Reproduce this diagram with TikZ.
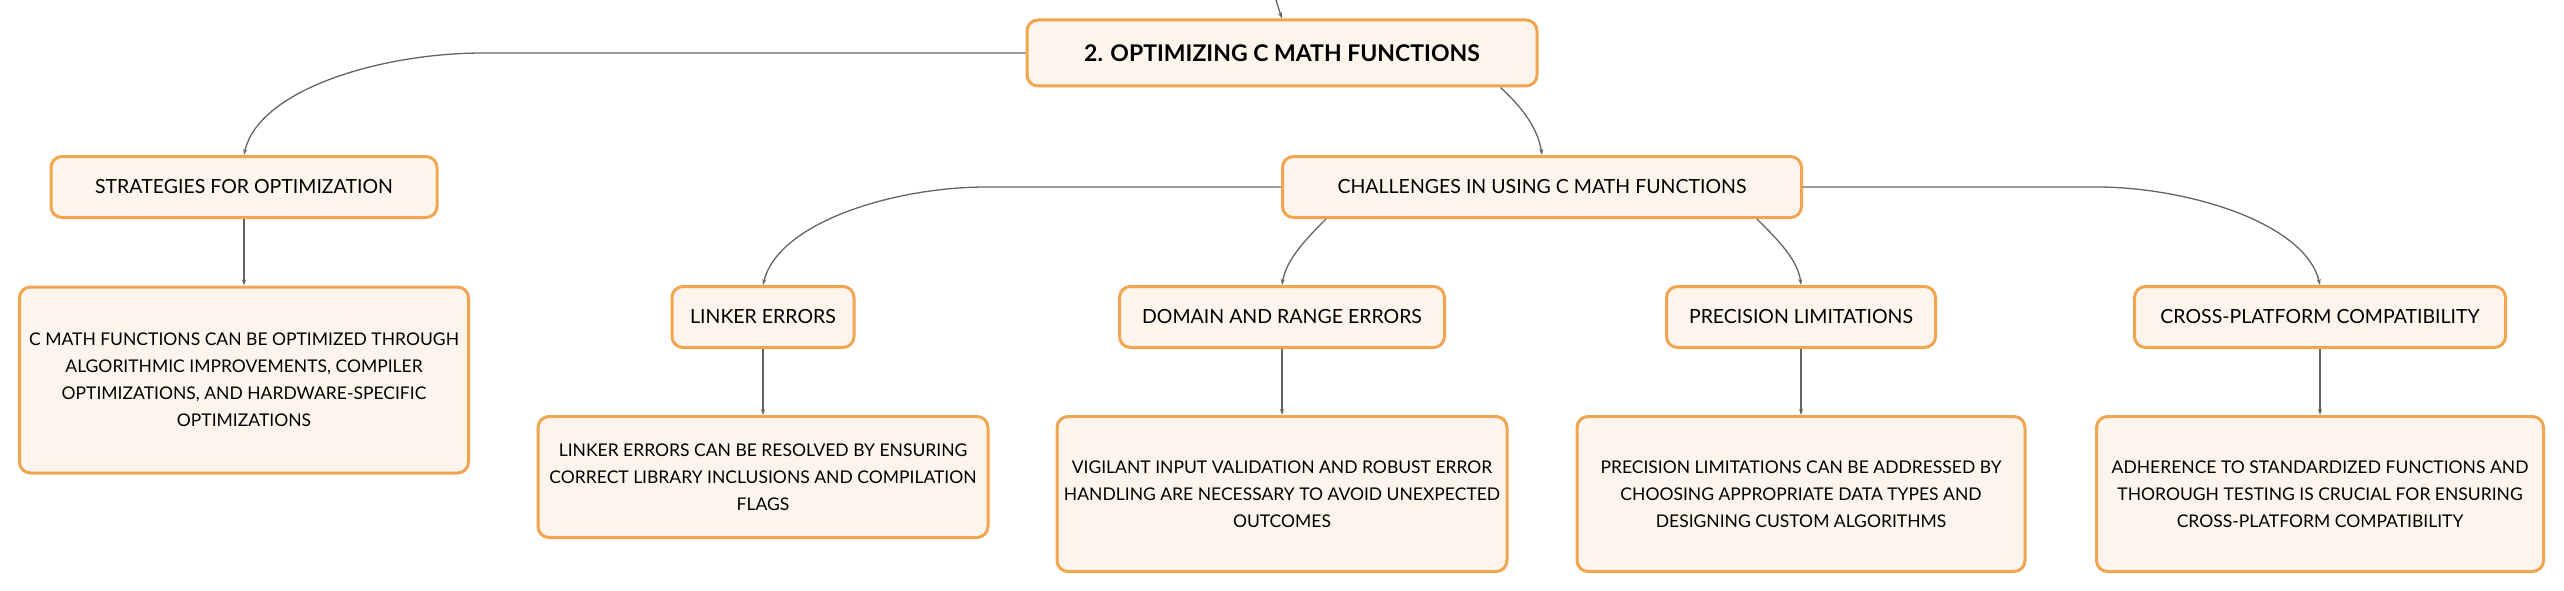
\documentclass[tikz,border=0pt]{standalone}
\usepackage{fontspec}
\setmainfont{Lato}
\usetikzlibrary{arrows.meta}
\definecolor{boxborder}{RGB}{241,165,80}
\definecolor{boxfill}{RGB}{253,244,236}
\definecolor{linkgray}{RGB}{100,100,100}
\tikzset{
  box/.style={draw=boxborder, fill=boxfill, line width=3pt, rounded corners=11pt,
    align=center, inner sep=0pt, font=\fontsize{17.5}{27}\selectfont},
  labelbox/.style={box, font=\fontsize{19.5}{27}\selectfont},
  rootbox/.style={box, font=\fontsize{23}{28}\selectfont\bfseries},
  conn/.style={draw=linkgray, line width=1.3pt, -{Stealth[length=6pt,width=4pt]}},
}
\begin{document}
\begin{tikzpicture}[x=1pt,y=-1pt]
\useasboundingbox (0,0) rectangle (2564,591);
% nodes
\node[rootbox, minimum width=510, minimum height=66] (root) at (1282,53) {2. OPTIMIZING C MATH FUNCTIONS};
\node[labelbox, minimum width=386, minimum height=61] (strat) at (244,187) {STRATEGIES FOR OPTIMIZATION};
\node[box, minimum width=449, minimum height=186] (stratd) at (244,380) {C MATH FUNCTIONS CAN BE OPTIMIZED THROUGH\\ALGORITHMIC IMPROVEMENTS, COMPILER\\OPTIMIZATIONS, AND HARDWARE-SPECIFIC\\OPTIMIZATIONS};
\node[labelbox, minimum width=519, minimum height=61] (chal) at (1542,187) {CHALLENGES IN USING C MATH FUNCTIONS};
\node[labelbox, minimum width=182, minimum height=61] (link) at (763,317) {LINKER ERRORS};
\node[box, minimum width=450, minimum height=121] (linkd) at (763,477) {LINKER ERRORS CAN BE RESOLVED BY ENSURING\\CORRECT LIBRARY INCLUSIONS AND COMPILATION\\FLAGS};
\node[labelbox, minimum width=325, minimum height=61] (dom) at (1282,317) {DOMAIN AND RANGE ERRORS};
\node[box, minimum width=450, minimum height=155] (domd) at (1282,494) {VIGILANT INPUT VALIDATION AND ROBUST ERROR\\HANDLING ARE NECESSARY TO AVOID UNEXPECTED\\OUTCOMES};
\node[labelbox, minimum width=269, minimum height=61] (prec) at (1801,317) {PRECISION LIMITATIONS};
\node[box, minimum width=448, minimum height=155] (precd) at (1801,494) {PRECISION LIMITATIONS CAN BE ADDRESSED BY\\CHOOSING APPROPRIATE DATA TYPES AND\\DESIGNING CUSTOM ALGORITHMS};
\node[labelbox, minimum width=371, minimum height=61] (cross) at (2320,317) {CROSS-PLATFORM COMPATIBILITY};
\node[box, minimum width=447, minimum height=155] (crossd) at (2320,494) {ADHERENCE TO STANDARDIZED FUNCTIONS AND\\THOROUGH TESTING IS CRUCIAL FOR ENSURING\\CROSS-PLATFORM COMPATIBILITY};
% connectors
\coordinate (ptop) at (1276,0);
\draw[conn] (ptop) .. controls (1278,8) .. (root.north);
\draw[conn] (root.west) -- (483,53) .. controls (380,53) and (258,90) .. (strat.north);
\draw[conn] (strat.south) -- (stratd.north);
\draw[conn] (root.south east) ++(-38,0) .. controls (1525,110) and (1538,130) .. (chal.north);
\draw[conn] (chal.west) -- (986,187) .. controls (895,187) and (778,222) .. (link.north);
\draw[conn] (chal.south west) ++(45,0) .. controls (1305,240) and (1286,260) .. (dom.north);
\draw[conn] (chal.south east) ++(-46,0) .. controls (1778,240) and (1798,260) .. (prec.north);
\draw[conn] (chal.east) -- (2097,187) .. controls (2185,187) and (2305,222) .. (cross.north);
\draw[conn] (link.south) -- (linkd.north);
\draw[conn] (dom.south) -- (domd.north);
\draw[conn] (prec.south) -- (precd.north);
\draw[conn] (cross.south) -- (crossd.north);
\end{tikzpicture}
\end{document}
